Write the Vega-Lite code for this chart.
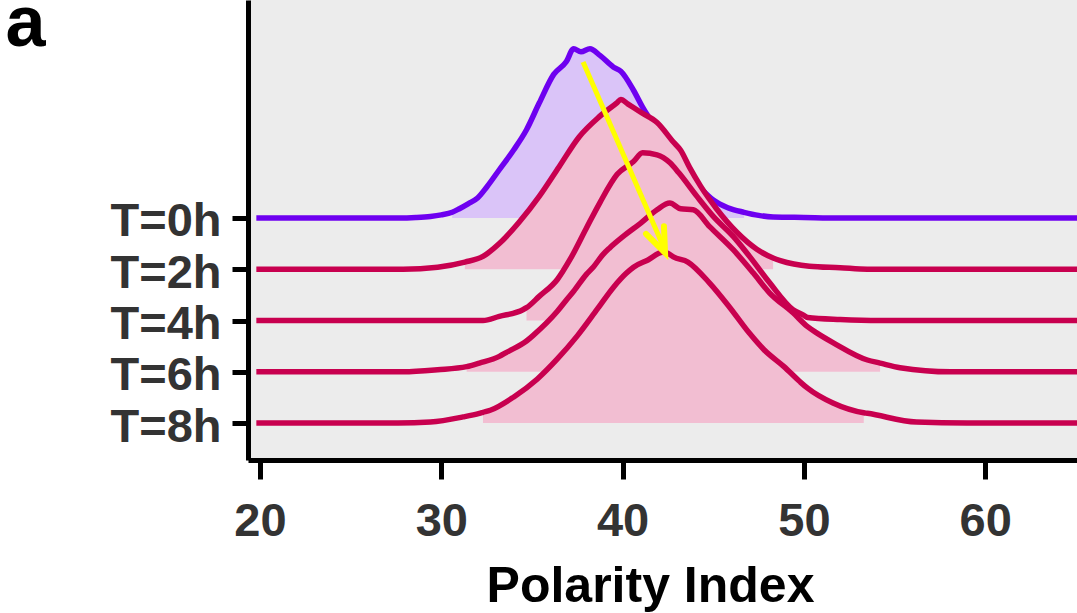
{
  "$schema": "https://vega.github.io/schema/vega-lite/v6.json",
  "width": 829,
  "height": 460,
  "autosize": {"type": "none"},
  "padding": {"left": 248, "top": 0, "right": 0, "bottom": 153},
  "background": "white",
  "config": {
    "view": {"fill": "#ECECEC", "stroke": null},
    "font": "Liberation Sans"
  },
  "datasets": {
    "ridges": [
      {"t":"T=0h","x":19.8,"y":4},{"t":"T=0h","x":27.7,"y":4},{"t":"T=0h","x":28.6,"y":4.01},{"t":"T=0h","x":29.4,"y":4.03},{"t":"T=0h","x":30.0,"y":4.06},{"t":"T=0h","x":30.6,"y":4.11},{"t":"T=0h","x":31.0,"y":4.18},{"t":"T=0h","x":31.5,"y":4.28},{"t":"T=0h","x":32.0,"y":4.39},{"t":"T=0h","x":32.5,"y":4.6},{"t":"T=0h","x":33.2,"y":4.94},{"t":"T=0h","x":34.0,"y":5.33},{"t":"T=0h","x":34.7,"y":5.72},{"t":"T=0h","x":35.4,"y":6.24},{"t":"T=0h","x":36.2,"y":6.8},{"t":"T=0h","x":36.9,"y":7.05},{"t":"T=0h","x":37.3,"y":7.3},{"t":"T=0h","x":37.7,"y":7.24},{"t":"T=0h","x":38.2,"y":7.3},{"t":"T=0h","x":38.75,"y":7.17},{"t":"T=0h","x":39.5,"y":6.94},{"t":"T=0h","x":39.9,"y":6.86},{"t":"T=0h","x":40.6,"y":6.49},{"t":"T=0h","x":41.1,"y":6.16},{"t":"T=0h","x":42.1,"y":5.62},{"t":"T=0h","x":43.2,"y":5.03},{"t":"T=0h","x":44.3,"y":4.58},{"t":"T=0h","x":45.0,"y":4.35},{"t":"T=0h","x":45.8,"y":4.2},{"t":"T=0h","x":46.7,"y":4.11},{"t":"T=0h","x":47.5,"y":4.05},{"t":"T=0h","x":48.3,"y":4.02},{"t":"T=0h","x":50.0,"y":4.01},{"t":"T=0h","x":52.0,"y":4},{"t":"T=0h","x":65.1,"y":4},
      {"t":"T=2h","x":19.8,"y":3},{"t":"T=2h","x":27.9,"y":3},{"t":"T=2h","x":29.8,"y":3.04},{"t":"T=2h","x":31.3,"y":3.14},{"t":"T=2h","x":32.3,"y":3.25},{"t":"T=2h","x":33.2,"y":3.5},{"t":"T=2h","x":34.3,"y":3.92},{"t":"T=2h","x":35.4,"y":4.42},{"t":"T=2h","x":36.5,"y":5.0},{"t":"T=2h","x":37.6,"y":5.58},{"t":"T=2h","x":38.7,"y":5.97},{"t":"T=2h","x":39.7,"y":6.25},{"t":"T=2h","x":39.9,"y":6.31},{"t":"T=2h","x":40.3,"y":6.22},{"t":"T=2h","x":41.0,"y":6.06},{"t":"T=2h","x":41.9,"y":5.86},{"t":"T=2h","x":42.8,"y":5.48},{"t":"T=2h","x":43.2,"y":5.32},{"t":"T=2h","x":43.7,"y":4.98},{"t":"T=2h","x":44.3,"y":4.62},{"t":"T=2h","x":45.2,"y":4.17},{"t":"T=2h","x":46.3,"y":3.72},{"t":"T=2h","x":47.4,"y":3.39},{"t":"T=2h","x":48.3,"y":3.22},{"t":"T=2h","x":48.7,"y":3.17},{"t":"T=2h","x":50.3,"y":3.06},{"t":"T=2h","x":52.0,"y":3.03},{"t":"T=2h","x":53.5,"y":3},{"t":"T=2h","x":65.1,"y":3},
      {"t":"T=4h","x":19.8,"y":2},{"t":"T=4h","x":32.3,"y":2},{"t":"T=4h","x":33.2,"y":2.08},{"t":"T=4h","x":34.5,"y":2.21},{"t":"T=4h","x":34.7,"y":2.25},{"t":"T=4h","x":35.4,"y":2.47},{"t":"T=4h","x":36.4,"y":2.8},{"t":"T=4h","x":37.1,"y":3.19},{"t":"T=4h","x":38.0,"y":3.8},{"t":"T=4h","x":38.75,"y":4.3},{"t":"T=4h","x":39.7,"y":4.85},{"t":"T=4h","x":40.6,"y":5.1},{"t":"T=4h","x":41.1,"y":5.27},{"t":"T=4h","x":41.9,"y":5.23},{"t":"T=4h","x":42.6,"y":5.08},{"t":"T=4h","x":43.1,"y":4.88},{"t":"T=4h","x":44.1,"y":4.42},{"t":"T=4h","x":45.0,"y":4.03},{"t":"T=4h","x":46.1,"y":3.64},{"t":"T=4h","x":47.0,"y":3.25},{"t":"T=4h","x":48.1,"y":2.74},{"t":"T=4h","x":49.4,"y":2.21},{"t":"T=4h","x":50.0,"y":2.1},{"t":"T=4h","x":50.2,"y":2.06},{"t":"T=4h","x":52.0,"y":2.02},{"t":"T=4h","x":54.2,"y":2},{"t":"T=4h","x":65.1,"y":2},
      {"t":"T=6h","x":19.8,"y":1},{"t":"T=6h","x":27.9,"y":1},{"t":"T=6h","x":29.8,"y":1.04},{"t":"T=6h","x":31.4,"y":1.1},{"t":"T=6h","x":32.1,"y":1.17},{"t":"T=6h","x":33.2,"y":1.3},{"t":"T=6h","x":33.6,"y":1.38},{"t":"T=6h","x":34.7,"y":1.6},{"t":"T=6h","x":35.1,"y":1.72},{"t":"T=6h","x":36.4,"y":2.18},{"t":"T=6h","x":36.9,"y":2.4},{"t":"T=6h","x":37.3,"y":2.57},{"t":"T=6h","x":38.0,"y":2.9},{"t":"T=6h","x":38.4,"y":3.05},{"t":"T=6h","x":38.9,"y":3.28},{"t":"T=6h","x":39.3,"y":3.42},{"t":"T=6h","x":40.0,"y":3.63},{"t":"T=6h","x":41.0,"y":3.9},{"t":"T=6h","x":41.9,"y":4.16},{"t":"T=6h","x":42.6,"y":4.29},{"t":"T=6h","x":43.2,"y":4.18},{"t":"T=6h","x":43.9,"y":4.16},{"t":"T=6h","x":44.8,"y":3.83},{"t":"T=6h","x":46.1,"y":3.38},{"t":"T=6h","x":47.2,"y":2.93},{"t":"T=6h","x":48.1,"y":2.54},{"t":"T=6h","x":49.4,"y":2.15},{"t":"T=6h","x":50.2,"y":1.88},{"t":"T=6h","x":50.7,"y":1.76},{"t":"T=6h","x":51.6,"y":1.57},{"t":"T=6h","x":53.5,"y":1.23},{"t":"T=6h","x":54.2,"y":1.17},{"t":"T=6h","x":55.3,"y":1.08},{"t":"T=6h","x":58.1,"y":1},{"t":"T=6h","x":65.1,"y":1},
      {"t":"T=8h","x":19.8,"y":0},{"t":"T=8h","x":27.6,"y":0},{"t":"T=8h","x":29.4,"y":0.02},{"t":"T=8h","x":31.2,"y":0.12},{"t":"T=8h","x":32.1,"y":0.19},{"t":"T=8h","x":32.3,"y":0.21},{"t":"T=8h","x":32.7,"y":0.25},{"t":"T=8h","x":34.0,"y":0.51},{"t":"T=8h","x":35.3,"y":0.86},{"t":"T=8h","x":36.4,"y":1.25},{"t":"T=8h","x":37.5,"y":1.7},{"t":"T=8h","x":38.6,"y":2.22},{"t":"T=8h","x":39.5,"y":2.65},{"t":"T=8h","x":40.2,"y":2.92},{"t":"T=8h","x":40.6,"y":3.04},{"t":"T=8h","x":41.4,"y":3.18},{"t":"T=8h","x":42.2,"y":3.33},{"t":"T=8h","x":42.5,"y":3.31},{"t":"T=8h","x":42.8,"y":3.24},{"t":"T=8h","x":43.6,"y":3.14},{"t":"T=8h","x":44.8,"y":2.73},{"t":"T=8h","x":45.9,"y":2.26},{"t":"T=8h","x":47.0,"y":1.75},{"t":"T=8h","x":47.8,"y":1.43},{"t":"T=8h","x":48.9,"y":1.1},{"t":"T=8h","x":49.8,"y":0.8},{"t":"T=8h","x":50.2,"y":0.68},{"t":"T=8h","x":51.6,"y":0.39},{"t":"T=8h","x":53.3,"y":0.2},{"t":"T=8h","x":53.5,"y":0.19},{"t":"T=8h","x":56.2,"y":0.02},{"t":"T=8h","x":59.0,"y":0},{"t":"T=8h","x":65.1,"y":0}
    ],
    "arrow": [{"x": 37.82, "y": 7.04, "x2": 42.3, "y2": 3.4}],
    "head": [
      {"i": 1, "x": 41.29, "y": 3.69},
      {"i": 2, "x": 42.34, "y": 3.32},
      {"i": 3, "x": 42.28, "y": 3.84}
    ]
  },
  "data": {"name": "ridges"},
  "encoding": {
    "x": {
      "field": "x", "type": "quantitative",
      "scale": {"domain": [19.34, 65.06], "nice": false, "zero": false},
      "axis": {
        "values": [20, 30, 40, 50, 60], "grid": false,
        "domainColor": "black", "domainWidth": 5,
        "tickColor": "black", "tickWidth": 5, "tickSize": 19,
        "labelFont": "Liberation Sans", "labelFontSize": 47, "labelFontWeight": "bold", "labelColor": "#333333",
        "labelPadding": 56, "labelBaseline": "alphabetic", "labelFlush": false, "labelOverlap": false,
        "title": "Polarity Index", "titleFont": "Liberation Sans", "titleFontSize": 50, "titleFontWeight": "bold", "titleColor": "black",
        "titleX": 402, "titleY": 141, "titleAlign": "center", "titleBaseline": "alphabetic", "titleAnchor": null
      }
    },
    "y": {
      "field": "y", "type": "quantitative",
      "scale": {"domain": [-0.72, 8.25], "nice": false, "zero": false},
      "axis": {
        "values": [0, 1, 2, 3, 4], "grid": false,
        "labelExpr": "['T=8h','T=6h','T=4h','T=2h','T=0h'][datum.value]",
        "domainColor": "black", "domainWidth": 5,
        "tickColor": "black", "tickWidth": 5, "tickSize": 16,
        "labelFont": "Liberation Sans", "labelFontSize": 47, "labelFontWeight": "bold", "labelColor": "#333333",
        "labelPadding": 11, "labelOffset": 4, "labelOverlap": false, "labelFlush": false,
        "title": "a", "titleFont": "Liberation Sans", "titleFontSize": 72, "titleFontWeight": "bold", "titleColor": "black",
        "titleAngle": 0, "titleX": -243, "titleY": 45, "titleAlign": "left", "titleBaseline": "alphabetic", "titleAnchor": null
      }
    }
  },
  "layer": [
    {"transform": [{"filter": "datum.t == 'T=0h' && datum.x >= 30.6 && datum.x <= 46.7"}],
     "mark": {"type": "area", "color": "#DAC4F8", "interpolate": "monotone", "clip": true},
     "encoding": {"y2": {"datum": 4}}},
    {"transform": [{"filter": "datum.t == 'T=0h'"}],
     "mark": {"type": "line", "color": "#6E00F0", "strokeWidth": 5.5, "interpolate": "monotone", "clip": true}},
    {"transform": [{"filter": "datum.t == 'T=2h' && datum.x >= 31.3 && datum.x <= 48.3"}],
     "mark": {"type": "area", "color": "#F2BED2", "interpolate": "monotone", "clip": true},
     "encoding": {"y2": {"datum": 3}}},
    {"transform": [{"filter": "datum.t == 'T=2h'"}],
     "mark": {"type": "line", "color": "#C8004F", "strokeWidth": 5.5, "interpolate": "monotone", "clip": true}},
    {"transform": [{"filter": "datum.t == 'T=4h' && datum.x >= 34.7 && datum.x <= 50.0"}],
     "mark": {"type": "area", "color": "#F2BED2", "interpolate": "monotone", "clip": true},
     "encoding": {"y2": {"datum": 2}}},
    {"transform": [{"filter": "datum.t == 'T=4h'"}],
     "mark": {"type": "line", "color": "#C8004F", "strokeWidth": 5.5, "interpolate": "monotone", "clip": true}},
    {"transform": [{"filter": "datum.t == 'T=6h' && datum.x >= 31.4 && datum.x <= 54.2"}],
     "mark": {"type": "area", "color": "#F2BED2", "interpolate": "monotone", "clip": true},
     "encoding": {"y2": {"datum": 1}}},
    {"transform": [{"filter": "datum.t == 'T=6h'"}],
     "mark": {"type": "line", "color": "#C8004F", "strokeWidth": 5.5, "interpolate": "monotone", "clip": true}},
    {"transform": [{"filter": "datum.t == 'T=8h' && datum.x >= 32.3 && datum.x <= 53.3"}],
     "mark": {"type": "area", "color": "#F2BED2", "interpolate": "monotone", "clip": true},
     "encoding": {"y2": {"datum": 0}}},
    {"transform": [{"filter": "datum.t == 'T=8h'"}],
     "mark": {"type": "line", "color": "#C8004F", "strokeWidth": 5.5, "interpolate": "monotone", "clip": true}},
    {"data": {"name": "arrow"},
     "mark": {"type": "rule", "color": "#FFFF00", "strokeWidth": 5},
     "encoding": {"x2": {"field": "x2"}, "y2": {"field": "y2"}}},
    {"data": {"name": "head"},
     "mark": {"type": "line", "color": "#FFFF00", "strokeWidth": 6, "strokeJoin": "miter", "strokeCap": "round"},
     "encoding": {"order": {"field": "i", "type": "quantitative"}}}
  ]
}
